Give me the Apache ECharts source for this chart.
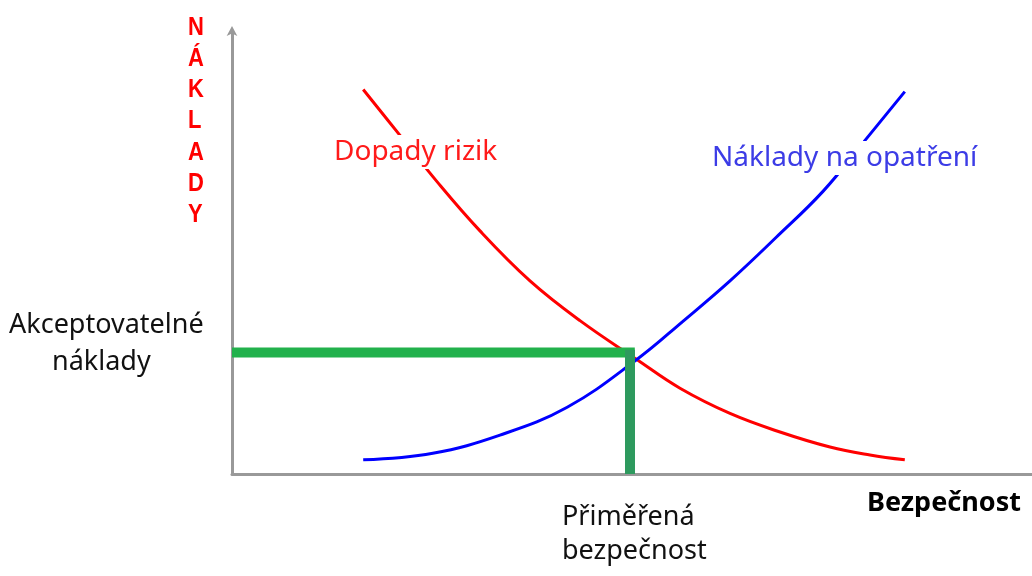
<!DOCTYPE html>
<html>
<head>
<meta charset="utf-8">
<script src="https://cdn.jsdelivr.net/npm/echarts@6/dist/echarts.min.js"></script>
<style>
  html, body { margin: 0; padding: 0; background: #fff; }
  #chart { width: 1032px; height: 576px; }
</style>
</head>
<body>
<div id="chart"></div>
<script>
// curve points [bezpečnost, náklady]
const riskImpact = [[16.4, 87], [21, 76.6], [25.6, 66.2], [31, 55], [37.25, 43.7], [43.5, 34.7], [50.6, 25.9], [56, 19.4], [62.25, 13.7], [68.5, 9.5], [74.75, 6.1], [79.75, 4.3], [84.1, 3.2]]
const measureCost = [[16.4, 3.2], [25.1, 4.7], [33.5, 8.8], [41.9, 15.1], [50.6, 25.9], [56.4, 34.6], [62.25, 43.7], [68, 53.5], [73.9, 64], [79, 75.2], [84.1, 86.5]]
const optimum = [49.75, 27.5] // přiměřená bezpečnost / akceptovatelné náklady

const seriesNames = ['Dopady rizik', 'Náklady na opatření']
const xAxisTitle = 'Bezpečnost'
const yAxisTitle = 'NÁKLADY'
const optimumXLabel = ['Přiměřená', 'bezpečnost']
const optimumYLabel = ['Akceptovatelné', 'náklady']

const chart = echarts.init(document.getElementById('chart'))
const font = '"Noto Sans", sans-serif'

chart.setOption({
  backgroundColor: '#fff',
  animation: false,
  grid: { left: 232, right: 0, top: 32, bottom: 102 },
  xAxis: {
    type: 'value', min: 0, max: 100,
    axisLine: { lineStyle: { color: '#999', width: 3 } },
    axisTick: { show: false }, axisLabel: { show: false }, splitLine: { show: false }
  },
  yAxis: {
    type: 'value', min: 0, max: 100,
    axisLine: { show: true, symbol: ['none', 'arrow'], symbolSize: [8, 10], symbolOffset: [0, 6], lineStyle: { color: '#999', width: 3 } },
    axisTick: { show: false }, axisLabel: { show: false }, splitLine: { show: false }
  },
  series: [
    {
      name: seriesNames[0], type: 'line', smooth: 0.4, showSymbol: false,
      lineStyle: { color: '#ff0000', width: 3 }, data: riskImpact
    },
    {
      name: seriesNames[1], type: 'line', smooth: 0.4, showSymbol: false,
      lineStyle: { color: '#0000ff', width: 3 }, data: measureCost
    },
    {
      type: 'line', showSymbol: false, z: 3,
      lineStyle: { color: '#22b14c', width: 10 },
      data: [[0, optimum[1]], [optimum[0] + 0.6, optimum[1]]]
    },
    {
      type: 'line', showSymbol: false, z: 4,
      lineStyle: { color: '#2e9a5e', width: 10 },
      data: [[optimum[0], 0], [optimum[0], optimum[1] + 0.6]]
    }
  ],
  graphic: [
    { type: 'text', left: 329, top: 135, z: 100, style: { text: seriesNames[0], fill: '#ff1a1a', font: '28px ' + font, backgroundColor: '#fff', padding: [3, 5] } },
    { type: 'text', left: 707, top: 141, z: 100, style: { text: seriesNames[1], fill: '#3c3ce6', font: '28px ' + font, backgroundColor: '#fff', padding: [3, 5] } },
    { type: 'text', left: 9, top: 312, z: 100, style: { text: optimumYLabel[0], fill: '#111', font: '27px ' + font } },
    { type: 'text', left: 52, top: 349, z: 100, style: { text: optimumYLabel[1], fill: '#111', font: '27px ' + font } },
    { type: 'text', left: 562, top: 504, z: 100, style: { text: optimumXLabel[0], fill: '#111', font: '27px ' + font } },
    { type: 'text', left: 562, top: 538, z: 100, style: { text: optimumXLabel[1], fill: '#111', font: '27px ' + font } },
    { type: 'text', left: 867, top: 490, z: 100, style: { text: xAxisTitle, fill: '#000', font: 'bold 27px ' + font } },
    { type: 'text', left: 188, top: 12, scaleY: 1.2, z: 100, style: { text: yAxisTitle.split('').join('\n'), fill: '#ff0000', font: 'bold 22px Arial, "Liberation Sans", sans-serif', lineHeight: 26, align: 'center', width: 22 } }
  ]
})
</script>
</body>
</html>
